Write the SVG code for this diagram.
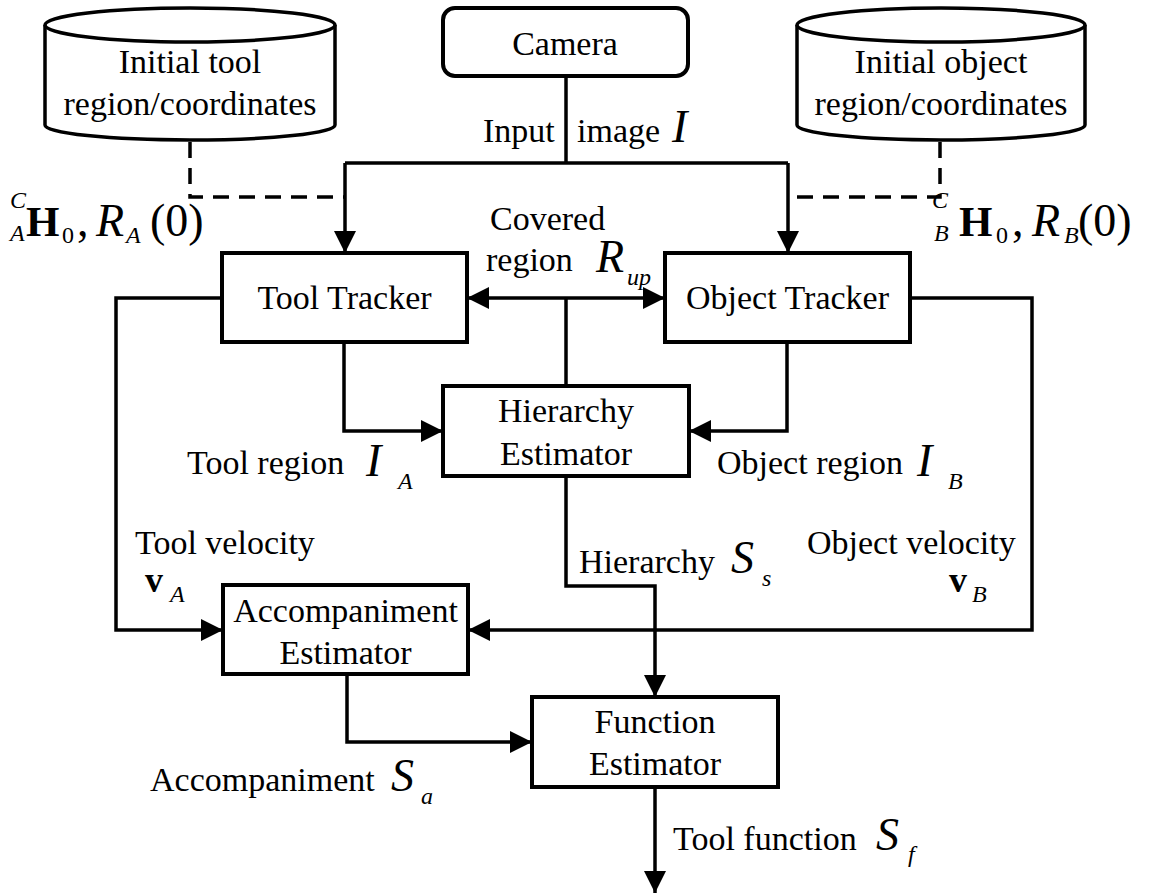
<svg xmlns="http://www.w3.org/2000/svg" width="1152" height="894" viewBox="0 0 1152 894">
<defs>
<marker id="arr" markerUnits="userSpaceOnUse" markerWidth="24" markerHeight="24" refX="22" refY="11" orient="auto">
<path d="M0,0 L22,11 L0,22 z" fill="#000"/>
</marker>
<style>
text{font-family:"Liberation Serif","Times New Roman",serif;fill:#000}
.t{font-size:34px}
.c{text-anchor:middle}
.m{font-size:46px;font-style:italic}
.s{font-size:24px;font-style:italic}
.n{font-size:24px}
.b{font-size:43px;font-weight:bold}
.v{font-size:36px;font-weight:bold}
.p{font-size:46px}
.box{fill:#fff;stroke:#000;stroke-width:4}
.ln{fill:none;stroke:#000;stroke-width:3.5}
.arrow{fill:none;stroke:#000;stroke-width:3.5;marker-end:url(#arr)}
.dash{fill:none;stroke:#000;stroke-width:3.5;stroke-dasharray:16 10}
</style>
</defs>
<rect width="1152" height="894" fill="#fff"/>

<g id="connectors">
<path class="dash" d="M190,142 V197 H345"/>
<path class="dash" d="M940,142 V197 H788"/>
<path class="ln" d="M566,76 V163"/>
<path class="ln" d="M345,163 H788"/>
<path class="arrow" d="M345,163 V253"/>
<path class="arrow" d="M788,163 V253"/>
<path class="ln" d="M566,386 V298"/>
<path class="arrow" d="M566,298 H467"/>
<path class="arrow" d="M566,298 H665"/>
<path class="arrow" d="M344,342 V431 H443"/>
<path class="arrow" d="M787,342 V431 H689"/>
<path class="arrow" d="M222,298 H116 V630 H223"/>
<path class="arrow" d="M910,298 H1032 V630 H468"/>
<path class="arrow" d="M566,476 V586 H655 V697"/>
<path class="arrow" d="M347,674 V742 H532"/>
<path class="arrow" d="M655,787 V893"/>
</g>

<g id="db-tool">
<path d="M45,25 V125 A145,15 0 0 0 335,125 V25" fill="#fff" stroke="#000" stroke-width="3.5"/>
<ellipse cx="190" cy="25" rx="145" ry="17" fill="#fff" stroke="#000" stroke-width="3.5"/>
<text class="t c" x="190" y="73">Initial tool</text>
<text class="t c" x="190" y="115">region/coordinates</text>
</g>

<g id="db-object">
<path d="M797,25 V125 A144,15 0 0 0 1085,125 V25" fill="#fff" stroke="#000" stroke-width="3.5"/>
<ellipse cx="941" cy="25" rx="144" ry="17" fill="#fff" stroke="#000" stroke-width="3.5"/>
<text class="t c" x="941" y="73">Initial object</text>
<text class="t c" x="941" y="115">region/coordinates</text>
</g>

<g id="camera">
<rect class="box" x="443" y="8" width="245" height="68" rx="12"/>
<text class="t c" x="565" y="55">Camera</text>
</g>

<g id="tool-tracker">
<rect class="box" x="222" y="253" width="245" height="89"/>
<text class="t c" x="344.5" y="309">Tool Tracker</text>
</g>

<g id="object-tracker">
<rect class="box" x="665" y="253" width="245" height="89"/>
<text class="t c" x="787.5" y="309">Object Tracker</text>
</g>

<g id="hierarchy-estimator">
<rect class="box" x="443" y="386" width="246" height="90"/>
<text class="t c" x="566" y="422">Hierarchy</text>
<text class="t c" x="566" y="465">Estimator</text>
</g>

<g id="accompaniment-estimator">
<rect class="box" x="223" y="585" width="245" height="89"/>
<text class="t c" x="345.5" y="622">Accompaniment</text>
<text class="t c" x="345.5" y="664">Estimator</text>
</g>

<g id="function-estimator">
<rect class="box" x="532" y="697" width="246" height="90"/>
<text class="t c" x="655" y="733">Function</text>
<text class="t c" x="655" y="775">Estimator</text>
</g>

<g id="labels">
<text class="t" x="483" y="142">Input</text>
<text class="t" x="577" y="142">image</text>
<text class="m" x="672" y="142">I</text>

<text class="s" x="10" y="208">C</text>
<text class="s" x="10" y="241">A</text>
<text class="b" x="26" y="236">H</text>
<text class="n" x="62" y="243">0</text>
<text class="p" x="77" y="236">,</text>
<text class="m" x="96" y="236">R</text>
<text class="s" x="126" y="243">A</text>
<text class="p" x="150" y="236">(0)</text>

<text class="s" x="932" y="208">C</text>
<text class="s" x="934" y="241">B</text>
<text class="b" x="959" y="236">H</text>
<text class="n" x="996" y="243">0</text>
<text class="p" x="1012" y="236">,</text>
<text class="m" x="1032" y="236">R</text>
<text class="s" x="1064" y="243">B</text>
<text class="p" x="1078" y="236">(0)</text>

<text class="t" x="490" y="230">Covered</text>
<text class="t" x="486" y="271">region</text>
<text class="m" x="596" y="272">R</text>
<text class="s" x="627" y="285">up</text>

<text class="t" x="187" y="474">Tool region</text>
<text class="m" x="366" y="476">I</text>
<text class="s" x="398" y="489">A</text>

<text class="t" x="717" y="474">Object region</text>
<text class="m" x="917" y="476">I</text>
<text class="s" x="948" y="489">B</text>

<text class="t" x="135" y="554">Tool velocity</text>
<text class="v" x="145" y="592">v</text>
<text class="s" x="170" y="602">A</text>

<text class="t" x="807" y="554">Object velocity</text>
<text class="v" x="949" y="592">v</text>
<text class="s" x="972" y="602">B</text>

<text class="t" x="579" y="573">Hierarchy</text>
<text class="m" x="731" y="573">S</text>
<text class="s" x="762" y="586">s</text>

<text class="t" x="150" y="791">Accompaniment</text>
<text class="m" x="391" y="791">S</text>
<text class="s" x="421" y="804">a</text>

<text class="t" x="673" y="850">Tool function</text>
<text class="m" x="876" y="850">S</text>
<text class="s" x="908" y="862">f</text>
</g>
</svg>
